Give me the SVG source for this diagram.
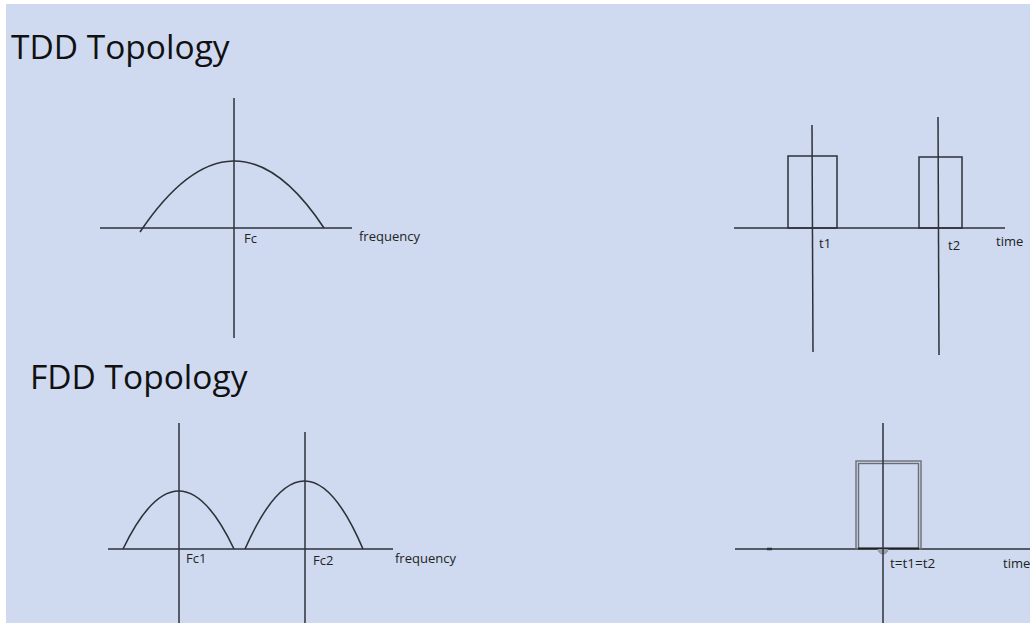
<svg xmlns="http://www.w3.org/2000/svg" width="1030" height="623" viewBox="0 0 1030 623">
  <style>
    .ax { stroke: #2e3238; stroke-width: 1.5; fill: none; }
    .cv { stroke: #2e3238; stroke-width: 1.6; fill: none; }
    .gr { stroke: #6a6e74; stroke-width: 1.4; fill: none; }
    .title { font-family: "Open Sans", "Noto Sans", sans-serif; font-size: 33.5px; fill: #111; }
    .lbl { font-family: "Open Sans", "Noto Sans", sans-serif; font-size: 13px; fill: #222; }
  </style>
  <rect x="0" y="0" width="1030" height="623" fill="#ffffff"/>
  <rect x="6" y="4" width="1024" height="619" fill="#cfdaf1"/>

  <g id="tdd-title"><text class="title" x="11" y="59">TDD Topology</text></g>
  <g id="fdd-title"><text class="title" x="30" y="389">FDD Topology</text></g>

  <g id="tdd-frequency">
    <line class="ax" x1="100" y1="228" x2="352" y2="228"/>
    <line class="ax" x1="234" y1="98" x2="234" y2="338"/>
    <path class="cv" d="M140,232 Q234,92 324,228"/>
    <text class="lbl" x="244" y="243">Fc</text>
    <text class="lbl" x="359" y="241">frequency</text>
  </g>

  <g id="tdd-time">
    <line class="ax" x1="734" y1="228" x2="1005" y2="228"/>
    <rect class="ax" x="788" y="156" width="49" height="72"/>
    <rect class="ax" x="919" y="157" width="43" height="71"/>
    <line class="ax" x1="812" y1="125" x2="813" y2="352"/>
    <line class="ax" x1="938" y1="117" x2="939" y2="355"/>
    <text class="lbl" x="819" y="248">t1</text>
    <text class="lbl" x="948" y="250">t2</text>
    <text class="lbl" x="996" y="246">time</text>
  </g>

  <g id="fdd-frequency">
    <line class="ax" x1="108" y1="549" x2="393" y2="549"/>
    <line class="ax" x1="179" y1="423" x2="179" y2="623"/>
    <line class="ax" x1="305" y1="432" x2="305" y2="623"/>
    <path class="cv" d="M123,549 Q179,433 234,549"/>
    <path class="cv" d="M245,549 Q305,413 363,549"/>
    <text class="lbl" x="186" y="563">Fc1</text>
    <text class="lbl" x="313" y="565">Fc2</text>
    <text class="lbl" x="395" y="563">frequency</text>
  </g>

  <g id="fdd-time">
    <line class="ax" x1="735" y1="549" x2="1030" y2="549"/>
    <line x1="767" y1="549" x2="772" y2="549" stroke="#2e3238" stroke-width="2.5"/>
    <rect class="gr" x="856" y="461" width="65" height="88"/>
    <rect class="gr" x="858.5" y="463.5" width="60" height="85"/>
    <line x1="858" y1="548.5" x2="919" y2="548.5" stroke="#1e2226" stroke-width="1.8"/>
    <path d="M878,549 A5,5 0 0 0 888,549" fill="#9aa0aa" stroke="#8a9099" stroke-width="1"/>
    <line class="ax" x1="883" y1="423" x2="883" y2="623"/>
    <text class="lbl" x="890" y="568" style="font-size:13.5px">t=t1=t2</text>
    <text class="lbl" x="1003" y="568">time</text>
  </g>
</svg>
